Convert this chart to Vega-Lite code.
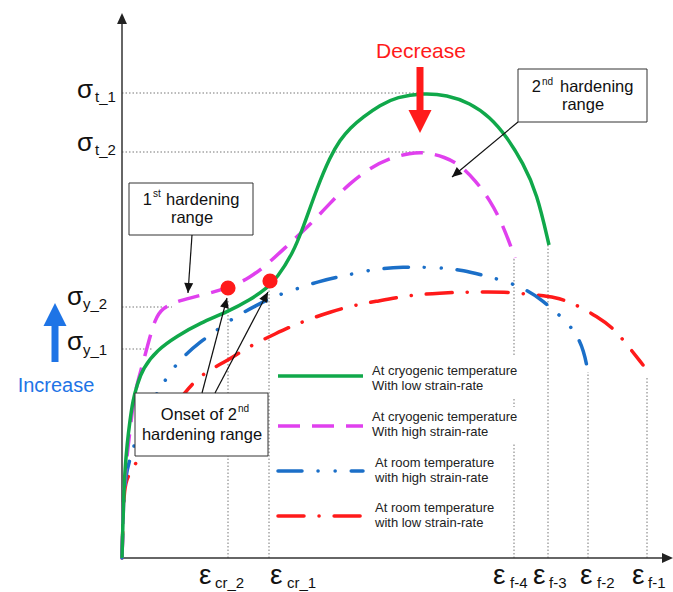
{
  "$schema": "https://vega.github.io/schema/vega-lite/v6.json",
  "width": 550,
  "height": 543,
  "autosize": {"type": "none"},
  "padding": {"left": 122, "top": 15, "right": 1, "bottom": 34},
  "background": "white",
  "config": {"view": {"stroke": null}, "text": {"font": "Liberation Sans"}},
  "datasets": {
    "curves": [
      {"s":"cryo_low","g":"curve","x":0,"y":0},{"s":"cryo_low","g":"curve","x":1,"y":38},{"s":"cryo_low","g":"curve","x":2,"y":68},{"s":"cryo_low","g":"curve","x":3,"y":88},{"s":"cryo_low","g":"curve","x":5,"y":113},{"s":"cryo_low","g":"curve","x":8,"y":138},{"s":"cryo_low","g":"curve","x":11,"y":158},{"s":"cryo_low","g":"curve","x":15,"y":173},{"s":"cryo_low","g":"curve","x":21,"y":190},{"s":"cryo_low","g":"curve","x":35,"y":208},{"s":"cryo_low","g":"curve","x":55,"y":222},{"s":"cryo_low","g":"curve","x":78,"y":235},{"s":"cryo_low","g":"curve","x":105,"y":246},{"s":"cryo_low","g":"curve","x":128,"y":258},{"s":"cryo_low","g":"curve","x":145,"y":270},{"s":"cryo_low","g":"curve","x":155,"y":280},{"s":"cryo_low","g":"curve","x":171,"y":305},{"s":"cryo_low","g":"curve","x":181,"y":330},{"s":"cryo_low","g":"curve","x":195,"y":370},{"s":"cryo_low","g":"curve","x":208,"y":401},{"s":"cryo_low","g":"curve","x":218,"y":418},{"s":"cryo_low","g":"curve","x":228,"y":430},{"s":"cryo_low","g":"curve","x":241,"y":441},{"s":"cryo_low","g":"curve","x":258,"y":453},{"s":"cryo_low","g":"curve","x":275,"y":461},{"s":"cryo_low","g":"curve","x":301,"y":465},{"s":"cryo_low","g":"curve","x":325,"y":463},{"s":"cryo_low","g":"curve","x":348,"y":455},{"s":"cryo_low","g":"curve","x":368,"y":441},{"s":"cryo_low","g":"curve","x":385,"y":421},{"s":"cryo_low","g":"curve","x":401,"y":395},{"s":"cryo_low","g":"curve","x":415,"y":365},{"s":"cryo_low","g":"curve","x":427,"y":313},
      {"s":"cryo_low","g":"legend","x":156,"y":182},{"s":"cryo_low","g":"legend","x":241,"y":182},
      {"s":"cryo_high","g":"curve","x":0,"y":0},{"s":"cryo_high","g":"curve","x":1,"y":38},{"s":"cryo_high","g":"curve","x":2,"y":68},{"s":"cryo_high","g":"curve","x":4,"y":93},{"s":"cryo_high","g":"curve","x":8,"y":128},{"s":"cryo_high","g":"curve","x":11,"y":153},{"s":"cryo_high","g":"curve","x":14,"y":170},{"s":"cryo_high","g":"curve","x":19,"y":188},{"s":"cryo_high","g":"curve","x":25,"y":210},{"s":"cryo_high","g":"curve","x":33,"y":240},{"s":"cryo_high","g":"curve","x":41,"y":250},{"s":"cryo_high","g":"curve","x":53,"y":256},{"s":"cryo_high","g":"curve","x":68,"y":260},{"s":"cryo_high","g":"curve","x":88,"y":265},{"s":"cryo_high","g":"curve","x":106,"y":270},{"s":"cryo_high","g":"curve","x":128,"y":280},{"s":"cryo_high","g":"curve","x":148,"y":296},{"s":"cryo_high","g":"curve","x":168,"y":315},{"s":"cryo_high","g":"curve","x":188,"y":333},{"s":"cryo_high","g":"curve","x":208,"y":355},{"s":"cryo_high","g":"curve","x":228,"y":375},{"s":"cryo_high","g":"curve","x":248,"y":390},{"s":"cryo_high","g":"curve","x":268,"y":400},{"s":"cryo_high","g":"curve","x":288,"y":405},{"s":"cryo_high","g":"curve","x":303,"y":406},{"s":"cryo_high","g":"curve","x":323,"y":401},{"s":"cryo_high","g":"curve","x":338,"y":393},{"s":"cryo_high","g":"curve","x":353,"y":378},{"s":"cryo_high","g":"curve","x":368,"y":358},{"s":"cryo_high","g":"curve","x":381,"y":333},{"s":"cryo_high","g":"curve","x":393,"y":300},
      {"s":"cryo_high","g":"legend","x":156,"y":132},{"s":"cryo_high","g":"legend","x":241,"y":132},
      {"s":"room_high","g":"curve","x":0,"y":0},{"s":"room_high","g":"curve","x":1,"y":38},{"s":"room_high","g":"curve","x":2,"y":63},{"s":"room_high","g":"curve","x":4,"y":83},{"s":"room_high","g":"curve","x":7,"y":96},{"s":"room_high","g":"curve","x":11,"y":108},{"s":"room_high","g":"curve","x":15,"y":123},{"s":"room_high","g":"curve","x":23,"y":145},{"s":"room_high","g":"curve","x":35,"y":165},{"s":"room_high","g":"curve","x":51,"y":190},{"s":"room_high","g":"curve","x":63,"y":203},{"s":"room_high","g":"curve","x":78,"y":216},{"s":"room_high","g":"curve","x":95,"y":228},{"s":"room_high","g":"curve","x":111,"y":240},{"s":"room_high","g":"curve","x":135,"y":253},{"s":"room_high","g":"curve","x":151,"y":261},{"s":"room_high","g":"curve","x":171,"y":268},{"s":"room_high","g":"curve","x":198,"y":277},{"s":"room_high","g":"curve","x":216,"y":281},{"s":"room_high","g":"curve","x":235,"y":285},{"s":"room_high","g":"curve","x":253,"y":289},{"s":"room_high","g":"curve","x":283,"y":291},{"s":"room_high","g":"curve","x":301,"y":291},{"s":"room_high","g":"curve","x":321,"y":290},{"s":"room_high","g":"curve","x":340,"y":288},{"s":"room_high","g":"curve","x":368,"y":281},{"s":"room_high","g":"curve","x":386,"y":276},{"s":"room_high","g":"curve","x":405,"y":268},{"s":"room_high","g":"curve","x":420,"y":258},{"s":"room_high","g":"curve","x":441,"y":240},{"s":"room_high","g":"curve","x":454,"y":225},{"s":"room_high","g":"curve","x":462,"y":207},{"s":"room_high","g":"curve","x":466,"y":186},
      {"s":"room_high","g":"legend","x":156,"y":87},{"s":"room_high","g":"legend","x":241,"y":87},
      {"s":"room_low","g":"curve","x":0,"y":0},{"s":"room_low","g":"curve","x":1,"y":38},{"s":"room_low","g":"curve","x":2,"y":63},{"s":"room_low","g":"curve","x":4,"y":78},{"s":"room_low","g":"curve","x":11,"y":91},{"s":"room_low","g":"curve","x":23,"y":108},{"s":"room_low","g":"curve","x":43,"y":138},{"s":"room_low","g":"curve","x":71,"y":178},{"s":"room_low","g":"curve","x":95,"y":192},{"s":"room_low","g":"curve","x":111,"y":201},{"s":"room_low","g":"curve","x":128,"y":212},{"s":"room_low","g":"curve","x":155,"y":225},{"s":"room_low","g":"curve","x":170,"y":232},{"s":"room_low","g":"curve","x":188,"y":239},{"s":"room_low","g":"curve","x":208,"y":246},{"s":"room_low","g":"curve","x":233,"y":253},{"s":"room_low","g":"curve","x":251,"y":256},{"s":"room_low","g":"curve","x":288,"y":263},{"s":"room_low","g":"curve","x":318,"y":265},{"s":"room_low","g":"curve","x":346,"y":266},{"s":"room_low","g":"curve","x":366,"y":266},{"s":"room_low","g":"curve","x":385,"y":266},{"s":"room_low","g":"curve","x":415,"y":263},{"s":"room_low","g":"curve","x":433,"y":261},{"s":"room_low","g":"curve","x":451,"y":255},{"s":"room_low","g":"curve","x":476,"y":241},{"s":"room_low","g":"curve","x":491,"y":230},{"s":"room_low","g":"curve","x":503,"y":216},{"s":"room_low","g":"curve","x":521,"y":193},
      {"s":"room_low","g":"legend","x":156,"y":42},{"s":"room_low","g":"legend","x":241,"y":42}
    ],
    "refs": [
      {"x":0,"x2":301,"y":465,"y2":465},{"x":0,"x2":303,"y":406,"y2":406},{"x":0,"x2":50,"y":251,"y2":251},{"x":0,"x2":30,"y":209,"y2":209},
      {"x":106,"x2":106,"y":0,"y2":258},{"x":147,"x2":147,"y":0,"y2":275},{"x":392,"x2":392,"y":0,"y2":300},{"x":426,"x2":426,"y":0,"y2":313},{"x":466,"x2":466,"y":0,"y2":186},{"x":525,"x2":525,"y":0,"y2":181}
    ],
    "axes": [{"x":0,"x2":0,"y":0,"y2":536},{"x":0,"x2":541,"y":0,"y2":0}],
    "legendBg": [{"x":248,"x2":400,"y":201,"y2":161},{"x":248,"x2":400,"y":151,"y2":115}],
    "boxes": [{"x":7,"x2":131,"y":375,"y2":323},{"x":396,"x2":525,"y":489,"y2":436},{"x":13,"x2":146,"y":165,"y2":102}],
    "shafts": [{"x":70,"y":323,"x2":66,"y2":265},{"x":396,"y":436,"x2":330,"y2":381},{"x":80,"y":165,"x2":105,"y2":260},{"x":93,"y":165,"x2":146,"y2":266}],
    "onsets": [{"x":106,"y":270},{"x":148,"y":277}],
    "sigmas": [{"t":"σ","x":-45,"y":460},{"t":"σ","x":-45,"y":407},{"t":"σ","x":-55,"y":253},{"t":"σ","x":-55,"y":208}],
    "epsilons": [{"t":"ε","x":77,"y":-26},{"t":"ε","x":148,"y":-26},{"t":"ε","x":371,"y":-26},{"t":"ε","x":411,"y":-26},{"t":"ε","x":458,"y":-26},{"t":"ε","x":510,"y":-26}],
    "subs": [
      {"t":"t_1","x":-27,"y":456},{"t":"t_2","x":-27,"y":403},{"t":"y_2","x":-39,"y":249},{"t":"y_1","x":-39,"y":203},
      {"t":"cr_2","x":93,"y":-30},{"t":"cr_1","x":165,"y":-30},{"t":"f-4","x":388,"y":-30},{"t":"f-3","x":427,"y":-30},{"t":"f-2","x":475,"y":-30},{"t":"f-1","x":526,"y":-30}
    ],
    "boxRight": [{"t":"1","x":30,"y":353},{"t":"2","x":419,"y":466},{"t":"Onset of 2","x":115,"y":138}],
    "boxLeft": [{"t":"hardening","x":44,"y":353},{"t":"hardening","x":438,"y":466}],
    "boxCenter": [{"t":"range","x":70,"y":335},{"t":"range","x":461,"y":448},{"t":"hardening range","x":80,"y":118}],
    "sups": [{"t":"st","x":31,"y":361},{"t":"nd","x":420,"y":473},{"t":"nd","x":116,"y":146}],
    "legendText": [
      {"t":"At cryogenic temperature","x":250,"y":183},{"t":"With low strain-rate","x":250,"y":168},
      {"t":"At cryogenic temperature","x":250,"y":137},{"t":"With high strain-rate","x":250,"y":122},
      {"t":"At room temperature","x":253,"y":91},{"t":"with high strain-rate","x":253,"y":76},
      {"t":"At room temperature","x":253,"y":46},{"t":"with low strain-rate","x":253,"y":31}
    ]
  },
  "encoding": {
    "x": {"field":"x","type":"quantitative","scale":{"domain":[0,550],"nice":false,"zero":false},"axis":null},
    "y": {"field":"y","type":"quantitative","scale":{"domain":[0,543],"nice":false,"zero":false},"axis":null}
  },
  "layer": [
    {"data":{"name":"refs"},"mark":{"type":"rule","stroke":"#777","strokeWidth":1,"strokeDash":[1.5,2]},"encoding":{"x2":{"field":"x2"},"y2":{"field":"y2"}}},
    {"data":{"name":"axes"},"mark":{"type":"rule","stroke":"#333","strokeWidth":1.5},"encoding":{"x2":{"field":"x2"},"y2":{"field":"y2"}}},
    {"data":{"values":[{"x":0,"y":545}]},"mark":{"type":"point","shape":"M0,0L0.45,1L-0.45,1Z","filled":true,"color":"#222","opacity":1,"size":484,"angle":0}},
    {"data":{"values":[{"x":551,"y":0}]},"mark":{"type":"point","shape":"M0,0L0.45,1L-0.45,1Z","filled":true,"color":"#222","opacity":1,"size":484,"angle":90}},
    {"data":{"name":"curves"},"transform":[{"filter":"datum.s == 'room_low'"}],"mark":{"type":"line","color":"#ff1a1a","strokeWidth":3.5,"strokeDash":[26,15,0.1,15],"strokeCap":"round","interpolate":"basis"},"encoding":{"detail":{"field":"g"}}},
    {"data":{"name":"curves"},"transform":[{"filter":"datum.s == 'room_high'"}],"mark":{"type":"line","color":"#1b6fc8","strokeWidth":3.5,"strokeDash":[24,16,0.1,17,0.1,16],"strokeCap":"round","interpolate":"basis"},"encoding":{"detail":{"field":"g"}}},
    {"data":{"name":"curves"},"transform":[{"filter":"datum.s == 'cryo_high'"}],"mark":{"type":"line","color":"#e040ee","strokeWidth":3.5,"strokeDash":[22,12],"interpolate":"basis"},"encoding":{"detail":{"field":"g"}}},
    {"data":{"name":"curves"},"transform":[{"filter":"datum.s == 'cryo_low'"}],"mark":{"type":"line","color":"#10a84a","strokeWidth":3.5,"interpolate":"basis"},"encoding":{"detail":{"field":"g"}}},
    {"data":{"name":"legendBg"},"mark":{"type":"rect","fill":"white"},"encoding":{"x2":{"field":"x2"},"y2":{"field":"y2"}}},
    {"data":{"name":"legendText"},"mark":{"type":"text","align":"left","baseline":"alphabetic","fontSize":13,"color":"#222"},"encoding":{"text":{"field":"t"}}},
    {"data":{"name":"boxes"},"mark":{"type":"rect","fill":"white","stroke":"#333","strokeWidth":1},"encoding":{"x2":{"field":"x2"},"y2":{"field":"y2"}}},
    {"data":{"name":"boxRight"},"mark":{"type":"text","align":"right","baseline":"alphabetic","fontSize":16.5,"color":"#111"},"encoding":{"text":{"field":"t"}}},
    {"data":{"name":"boxLeft"},"mark":{"type":"text","align":"left","baseline":"alphabetic","fontSize":16.5,"color":"#111"},"encoding":{"text":{"field":"t"}}},
    {"data":{"name":"boxCenter"},"mark":{"type":"text","align":"center","baseline":"alphabetic","fontSize":16.5,"color":"#111"},"encoding":{"text":{"field":"t"}}},
    {"data":{"name":"sups"},"mark":{"type":"text","align":"left","baseline":"alphabetic","fontSize":10,"color":"#111"},"encoding":{"text":{"field":"t"}}},
    {"data":{"name":"shafts"},"mark":{"type":"rule","stroke":"#111","strokeWidth":1.2},"encoding":{"x2":{"field":"x2"},"y2":{"field":"y2"}}},
    {"data":{"values":[{"x":66,"y":265}]},"mark":{"type":"point","shape":"M0,0L0.45,1L-0.45,1Z","filled":true,"color":"#111","opacity":1,"size":400,"angle":184}},
    {"data":{"values":[{"x":330,"y":381}]},"mark":{"type":"point","shape":"M0,0L0.45,1L-0.45,1Z","filled":true,"color":"#111","opacity":1,"size":400,"angle":230}},
    {"data":{"values":[{"x":105,"y":260}]},"mark":{"type":"point","shape":"M0,0L0.45,1L-0.45,1Z","filled":true,"color":"#111","opacity":1,"size":400,"angle":15}},
    {"data":{"values":[{"x":146,"y":266}]},"mark":{"type":"point","shape":"M0,0L0.45,1L-0.45,1Z","filled":true,"color":"#111","opacity":1,"size":400,"angle":28}},
    {"data":{"name":"onsets"},"mark":{"type":"point","shape":"circle","filled":true,"color":"#ff1a1a","opacity":1,"size":230}},
    {"data":{"name":"sigmas"},"mark":{"type":"text","align":"left","baseline":"alphabetic","fontSize":26,"color":"#111"},"encoding":{"text":{"field":"t"}}},
    {"data":{"name":"epsilons"},"mark":{"type":"text","align":"left","baseline":"alphabetic","fontSize":28,"color":"#111"},"encoding":{"text":{"field":"t"}}},
    {"data":{"name":"subs"},"mark":{"type":"text","align":"left","baseline":"alphabetic","fontSize":15,"color":"#111"},"encoding":{"text":{"field":"t"}}},
    {"data":{"values":[{"x":298,"y":491,"y2":445}]},"mark":{"type":"rule","stroke":"#ff1a1a","strokeWidth":7},"encoding":{"y2":{"field":"y2"}}},
    {"data":{"values":[{"x":298,"y":425}]},"mark":{"type":"point","shape":"M0,0L0.5,1L-0.5,1Z","filled":true,"color":"#ff1a1a","opacity":1,"size":2116,"angle":180}},
    {"data":{"values":[{"t":"Decrease","x":299,"y":500}]},"mark":{"type":"text","align":"center","baseline":"alphabetic","fontSize":21,"color":"#ff1a1a"},"encoding":{"text":{"field":"t"}}},
    {"data":{"values":[{"x":-67,"y":196,"y2":237}]},"mark":{"type":"rule","stroke":"#1e74e6","strokeWidth":7},"encoding":{"y2":{"field":"y2"}}},
    {"data":{"values":[{"x":-67,"y":255}]},"mark":{"type":"point","shape":"M0,0L0.5,1L-0.5,1Z","filled":true,"color":"#1e74e6","opacity":1,"size":2116,"angle":0}},
    {"data":{"values":[{"t":"Increase","x":-66,"y":166}]},"mark":{"type":"text","align":"center","baseline":"alphabetic","fontSize":20,"color":"#1e74e6"},"encoding":{"text":{"field":"t"}}}
  ]
}
